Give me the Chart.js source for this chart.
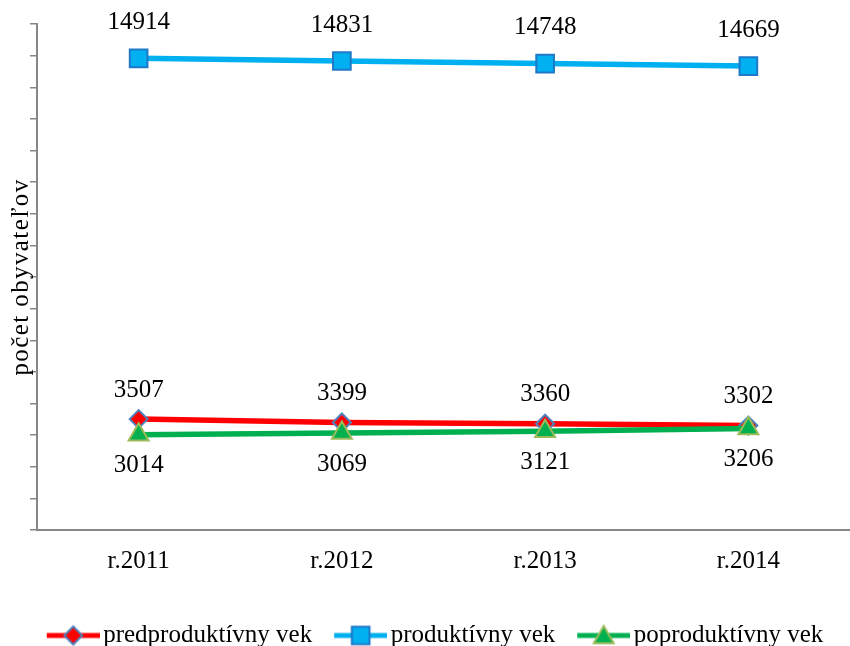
<!DOCTYPE html>
<html>
<head>
<meta charset="utf-8">
<script src="https://cdn.jsdelivr.net/npm/chart.js@4.4.1/dist/chart.umd.min.js"></script>
<style>
  html, body { margin: 0; padding: 0; background: #fff; }
</style>
</head>
<body>
<canvas id="chart" width="850" height="646"></canvas>
<script>
// --- data ---
const years = ['r.2011', 'r.2012', 'r.2013', 'r.2014'];
const predproduktivny = [3507, 3399, 3360, 3302];
const produktivny = [14914, 14831, 14748, 14669];
const poproduktivny = [3014, 3069, 3121, 3206];
const seriesNames = ['predproduktívny vek', 'produktívny vek', 'poproduktívny vek'];
const yMin = 0, yMax = 16000, yStep = 1000;

const FONT = "'Liberation Serif', 'Times New Roman', serif";
const FS = 25;
const AXIS = '#878787';

// style of each series (line, marker, label offset)
const styles = [
    { line: '#ff0000', fill: '#ff0000', border: '#4f81bd', shape: 'rectRot', radius: 9, labelDy: -29 },
    { line: '#00b0f0', fill: '#00b0f0', border: '#1f78c8', shape: 'rect', radius: 12.5, labelDy: -36 },
    { line: '#00b050', fill: '#00b050', border: '#9bbb59', shape: 'triangle', radius: 11.5, labelDy: 31 }
];
const seriesData = [predproduktivny, produktivny, poproduktivny];
const drawOrder = [1, 2, 0]; // green on top

// legend icon: short line with the marker in the middle, left part left empty for spacing
function legendIcon(st) {
    const c = document.createElement('canvas');
    c.width = 82; c.height = 24;
    const g = c.getContext('2d');
    g.strokeStyle = st.line; g.lineWidth = 5;
    g.beginPath(); g.moveTo(29, 12); g.lineTo(82, 12); g.stroke();
    g.fillStyle = st.fill; g.strokeStyle = st.border; g.lineWidth = 2;
    Chart.helpers.drawPoint(g, { pointStyle: st.shape, radius: st.radius, rotation: 0, borderWidth: 2 }, 55.5, st.shape === 'triangle' ? 14 : 12);
    return c;
}

// values above / below the points
const valueLabels = {
    id: 'valueLabels',
    afterDatasetsDraw(chart) {
        const ctx = chart.ctx;
        ctx.save();
        ctx.font = FS + 'px ' + FONT;
        ctx.fillStyle = '#000';
        ctx.textAlign = 'center';
        ctx.textBaseline = 'middle';
        chart.data.datasets.forEach((ds, i) => {
            const meta = chart.getDatasetMeta(i);
            meta.data.forEach((pt, j) => {
                ctx.fillText(String(ds.data[j]), pt.x, pt.y + styles[i].labelDy);
            });
        });
        ctx.restore();
    }
};

// the y title in the original is spread out a little
const spreadTitle = {
    id: 'spreadTitle',
    afterLayout(chart) {
        const sc = chart.scales.y;
        if (sc._spread) return;
        const orig = sc.drawTitle;
        sc.drawTitle = function () {
            const ctx = this.ctx;
            ctx.save();
            ctx.letterSpacing = '1.4px';
            orig.apply(this, arguments);
            ctx.restore();
        };
        sc._spread = true;
    }
};

const datasets = seriesData.map((d, i) => ({
    label: seriesNames[i],
    data: d,
    order: drawOrder[i],
    borderColor: styles[i].line,
    borderWidth: 5.5,
    backgroundColor: styles[i].fill,
    pointStyle: styles[i].shape,
    pointRadius: styles[i].radius,
    pointHoverRadius: styles[i].radius,
    pointBackgroundColor: styles[i].fill,
    pointBorderColor: styles[i].border,
    pointBorderWidth: 2,
    tension: 0,
    fill: false
}));

new Chart(document.getElementById('chart'), {
    type: 'line',
    data: { labels: years, datasets },
    plugins: [valueLabels, spreadTitle],
    options: {
        responsive: false,
        animation: false,
        layout: { autoPadding: false, padding: { top: 24, left: 0, right: 0, bottom: -12 } },
        plugins: {
            tooltip: { enabled: false },
            legend: {
                position: 'bottom',
                labels: {
                    usePointStyle: true,
                    pointStyleWidth: 64,
                    padding: 2,
                    color: '#000',
                    font: { family: FONT, size: FS },
                    generateLabels: (chart) => chart.data.datasets.map((ds, i) => ({
                        text: ds.label,
                        pointStyle: legendIcon(styles[i]),
                        fillStyle: styles[i].fill,
                        strokeStyle: styles[i].line,
                        lineWidth: 0,
                        fontColor: '#000',
                        datasetIndex: i,
                        hidden: false
                    }))
                }
            }
        },
        scales: {
            x: {
                offset: true,
                grid: { display: false },
                border: { display: true, color: AXIS, width: 2 },
                ticks: { color: '#000', font: { family: FONT, size: FS }, padding: 8 },
                afterFit: (scale) => { scale.height = 91; }
            },
            y: {
                min: yMin,
                max: yMax,
                ticks: { display: false, stepSize: yStep },
                grid: { drawOnChartArea: false, drawTicks: true, tickLength: 7, color: AXIS, lineWidth: 1.5 },
                border: { display: true, color: AXIS, width: 2 },
                title: {
                    display: true,
                    text: 'počet obyvateľov',
                    color: '#000',
                    font: { family: FONT, size: FS },
                    padding: { top: 6, bottom: 0 }
                },
                afterFit: (scale) => { scale.width = 37; }
            }
        }
    }
});
</script>
</body>
</html>
